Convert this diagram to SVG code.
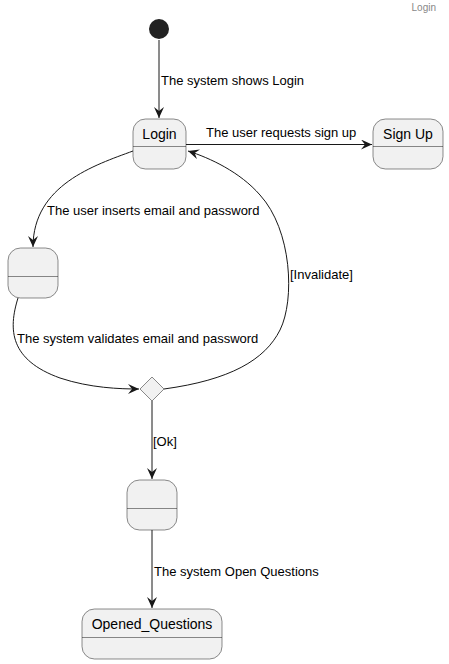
<svg xmlns="http://www.w3.org/2000/svg" width="449" height="664" viewBox="0 0 449 664">
<defs>
<style>
.st{fill:#F1F1F1;stroke:#181818;stroke-width:0.5}
.dv{stroke:#181818;stroke-width:0.5}
.lbl{font-family:"Liberation Sans",Arial,sans-serif;font-size:13px;fill:#000}
.nm{font-family:"Liberation Sans",Arial,sans-serif;font-size:14px;fill:#000;text-anchor:middle}
.ln{fill:none;stroke:#181818;stroke-width:1}
</style>
<marker id="ah" viewBox="0 0 12 10" refX="11" refY="5" markerWidth="12" markerHeight="10" markerUnits="userSpaceOnUse" orient="auto">
<path d="M11,5 L0,0 L4,5 L0,10 Z" fill="#181818"/>
</marker>
</defs>
<rect width="449" height="664" fill="#FFFFFF"/>
<text x="436" y="11" font-family="'Liberation Sans',Arial,sans-serif" font-size="10" fill="#888888" text-anchor="end">Login</text>

<g id="initial"><circle cx="159" cy="29" r="10" fill="#222222"/></g>

<g id="Login">
<rect class="st" x="133" y="119" width="53" height="50" rx="12.5"/>
<line class="dv" x1="133" y1="146.5" x2="186" y2="146.5"/>
<text class="nm" x="159.5" y="139">Login</text>
</g>
<g id="SignUp">
<rect class="st" x="373" y="119" width="70" height="50" rx="12.5"/>
<line class="dv" x1="373" y1="146.5" x2="443" y2="146.5"/>
<text class="nm" x="408" y="139">Sign Up</text>
</g>
<g id="state1">
<rect class="st" x="8" y="248" width="50" height="50" rx="12.5"/>
<line class="dv" x1="8" y1="276.5" x2="58" y2="276.5"/>
</g>
<g id="choice">
<polygon class="st" points="152,377 164,389 152,401 140,389"/>
</g>
<g id="state3">
<rect class="st" x="127" y="480" width="50" height="50" rx="12.5"/>
<line class="dv" x1="127" y1="508.5" x2="177" y2="508.5"/>
</g>
<g id="Opened_Questions">
<rect class="st" x="82" y="609" width="140" height="50" rx="12.5"/>
<line class="dv" x1="82" y1="637.5" x2="222" y2="637.5"/>
<text class="nm" x="152" y="629">Opened_Questions</text>
</g>

<g id="connectors">
<path class="ln" d="M159,40 L159,118" marker-end="url(#ah)"/>
<text class="lbl" x="161" y="85">The system shows Login</text>
<path class="ln" d="M186,144.5 L372,144.5" marker-end="url(#ah)"/>
<text class="lbl" x="206" y="137">The user requests sign up</text>
<path class="ln" d="M133,151 C95,165 33,185 33,247" marker-end="url(#ah)"/>
<text class="lbl" x="47" y="215">The user inserts email and password</text>
<path class="ln" d="M18,298 C8,330 10,360 60,378 C90,388 120,389 139,389" marker-end="url(#ah)"/>
<text class="lbl" x="17" y="343">The system validates email and password</text>
<path class="ln" d="M164,389 C230,380 265,360 280,330 C295,300 292,230 260,195 C240,172 210,158 188,151" marker-end="url(#ah)"/>
<text class="lbl" x="290" y="279">[Invalidate]</text>
<path class="ln" d="M152,401 L152,479" marker-end="url(#ah)"/>
<text class="lbl" x="153" y="446">[Ok]</text>
<path class="ln" d="M152,530 L152,608" marker-end="url(#ah)"/>
<text class="lbl" x="154" y="576">The system Open Questions</text>
</g>
</svg>
